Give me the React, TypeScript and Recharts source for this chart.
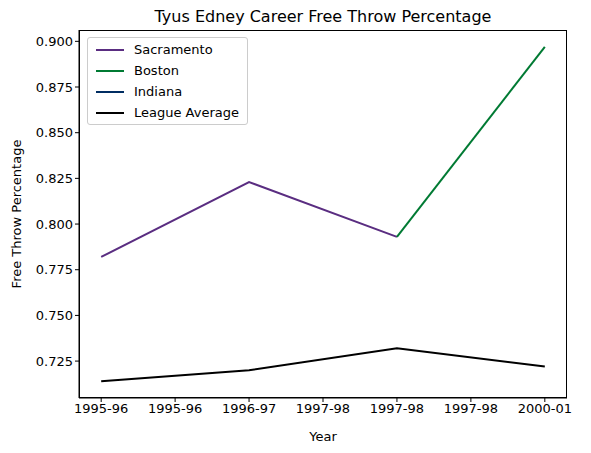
import { LineChart, Line, XAxis, YAxis } from "recharts";

const TICK_LABELS = ["1995-96", "1995-96", "1996-97", "1997-98", "1997-98", "1997-98", "2000-01"];
const X_TICKS = [0, 0.5, 1, 1.5, 2, 2.5, 3];
const Y_TICKS = [0.725, 0.75, 0.775, 0.8, 0.825, 0.85, 0.875, 0.9];

const sacramentoX = [0, 1, 2];
const sacramentoY = [0.782, 0.823, 0.793];
const bostonX = [2, 3];
const bostonY = [0.793, 0.897];
const indianaX: number[] = [];
const indianaY: number[] = [];
const leagueX = [0, 1, 2, 3];
const leagueY = [0.714, 0.72, 0.732, 0.722];

const toRows = (xs: number[], ys: number[]) => xs.map((x, i) => ({ x, y: ys[i] }));

const SERIES = [
  { name: "Sacramento", color: "#5a2d81", data: toRows(sacramentoX, sacramentoY) },
  { name: "Boston", color: "#007a33", data: toRows(bostonX, bostonY) },
  { name: "Indiana", color: "#002d62", data: toRows(indianaX, indianaY) },
  { name: "League Average", color: "#000000", data: toRows(leagueX, leagueY) },
];

const FONT = "'DejaVu Sans', sans-serif";
const tick = { fontSize: 13, fill: "#000", fontFamily: FONT };

export default function App() {
  return (
    <div style={{ position: "absolute", left: 0, top: 0, width: 591, height: 453, background: "#fff", fontFamily: FONT }}>
      <div style={{ position: "absolute", top: 7, left: 79, width: 488, textAlign: "center", fontSize: 16 }}>
        Tyus Edney Career Free Throw Percentage
      </div>
      <div
        style={{
          position: "absolute",
          top: 147,
          left: 16,
          transform: "translate(-50%, -50%) rotate(-90deg)",
          transformOrigin: "center",
          fontSize: 13,
          whiteSpace: "nowrap",
          marginTop: 67,
        }}
      >
        Free Throw Percentage
      </div>
      <LineChart width={591} height={453} margin={{ top: 30, right: 24, bottom: 0, left: 0 }}>
        <XAxis
          dataKey="x"
          type="number"
          domain={[-0.15, 3.15]}
          ticks={X_TICKS}
          tickFormatter={(v: number) => TICK_LABELS[X_TICKS.indexOf(v)] ?? ""}
          tick={tick}
          stroke="#000"
          tickSize={4}
          height={55}
          allowDuplicatedCategory={false}
          label={{ value: "Year", position: "insideBottom", offset: 12, fontSize: 13, fill: "#000", fontFamily: FONT }}
        />
        <YAxis
          dataKey="y"
          type="number"
          domain={[0.7048, 0.9062]}
          ticks={Y_TICKS}
          tickFormatter={(v: number) => v.toFixed(3)}
          tick={tick}
          stroke="#000"
          tickSize={4}
          width={79}
        />
        {SERIES.map((s) => (
          <Line
            key={s.name}
            data={s.data}
            dataKey="y"
            stroke={s.color}
            strokeWidth={2}
            dot={false}
            isAnimationActive={false}
          />
        ))}
      </LineChart>
      <div
        style={{
          position: "absolute",
          left: 79,
          top: 30,
          width: 488,
          height: 368,
          border: "1px solid #000",
          boxSizing: "border-box",
          pointerEvents: "none",
        }}
      />
      <div
        style={{
          position: "absolute",
          left: 87,
          top: 37,
          width: 161,
          height: 88,
          border: "1px solid #ccc",
          borderRadius: 3,
          background: "rgba(255,255,255,0.8)",
          fontSize: 13,
          padding: "1px 0 0 8px",
          boxSizing: "border-box",
        }}
      >
        {SERIES.map((s) => (
          <div key={s.name} style={{ display: "flex", alignItems: "center", height: 21 }}>
            <span style={{ display: "inline-block", width: 28, height: 2, background: s.color, marginRight: 10 }} />
            {s.name}
          </div>
        ))}
      </div>
    </div>
  );
}
